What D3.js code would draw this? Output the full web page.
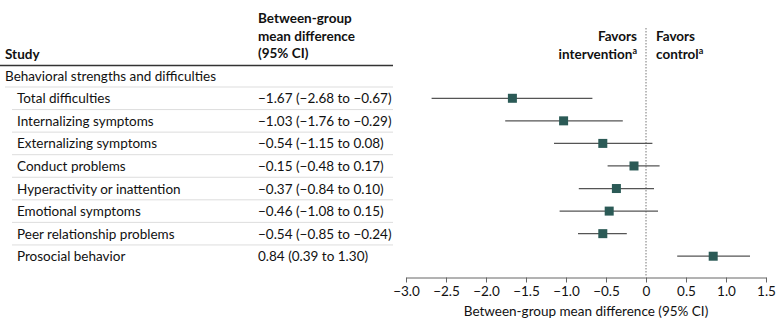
<!DOCTYPE html>
<html><head><meta charset="utf-8">
<script src="https://cdn.jsdelivr.net/npm/d3@7"></script>
<style>body{margin:0;background:#fff}svg{display:block}text{font-family:Lato,"Noto Sans",sans-serif;fill:#111}</style>
</head><body><svg id="c" width="780" height="330"></svg>
<script>
const studies = ["Total difficulties","Internalizing symptoms","Externalizing symptoms","Conduct problems","Hyperactivity or inattention","Emotional symptoms","Peer relationship problems","Prosocial behavior"];
const means = [-1.67,-1.03,-0.54,-0.15,-0.37,-0.46,-0.54,0.84];
const lows = [-2.68,-1.76,-1.15,-0.48,-0.84,-1.08,-0.85,0.39];
const highs = [-0.67,-0.29,0.08,0.17,0.10,0.15,-0.24,1.30];
const ciLabels = ["−1.67 (−2.68 to −0.67)","−1.03 (−1.76 to −0.29)","−0.54 (−1.15 to 0.08)","−0.15 (−0.48 to 0.17)","−0.37 (−0.84 to 0.10)","−0.46 (−1.08 to 0.15)","−0.54 (−0.85 to −0.24)","0.84 (0.39 to 1.30)"];
const tickValues = [-3.0,-2.5,-2.0,-1.5,-1.0,-0.5,0,0.5,1.0,1.5];
const tickLabels = ["−3.0","−2.5","−2.0","−1.5","−1.0","−0.5","0","0.5","1.0","1.5"];

const svg = d3.select("#c");
const fs = 13.5;
const x = d3.scaleLinear().domain([-3,1.5]).range([406,766]);
const y = d3.scaleBand().domain(studies).range([87,267.5]);

// header
svg.append("text").attr("x",5).attr("y",58.5).attr("font-size",fs).attr("font-weight","bold").text("Study");
["Between-group","mean difference","(95% CI)"].forEach((t,i)=>
  svg.append("text").attr("x",258).attr("y",23+i*17.7).attr("font-size",fs).attr("font-weight","bold").text(t));
svg.append("line").attr("x1",0).attr("x2",393).attr("y1",65.5).attr("y2",65.5).attr("stroke","#333").attr("stroke-width",1.5);
svg.append("text").attr("x",5).attr("y",81).attr("font-size",fs).text("Behavioral strengths and difficulties");
svg.append("line").attr("x1",5).attr("x2",393).attr("y1",87).attr("y2",87).attr("stroke","#ddd");

// rows
studies.forEach((s,i)=>{
  const cy = y(s)+y.bandwidth()/2;
  svg.append("text").attr("x",17).attr("y",cy+5).attr("font-size",fs).text(s);
  svg.append("text").attr("x",258).attr("y",cy+5).attr("font-size",fs).text(ciLabels[i]);
  if(i<studies.length-1) svg.append("line").attr("x1",12).attr("x2",393).attr("y1",y(s)+y.bandwidth()).attr("y2",y(s)+y.bandwidth()).attr("stroke","#ddd");
});

// favors labels
svg.append("line").attr("x1",x(0)).attr("x2",x(0)).attr("y1",28).attr("y2",277).attr("stroke","#777").attr("stroke-dasharray","1.5,1.5");
svg.append("text").attr("x",x(0)-9).attr("y",41).attr("text-anchor","end").attr("font-size",fs).attr("font-weight","bold").text("Favors");
const t2 = svg.append("text").attr("x",x(0)-9).attr("y",59).attr("text-anchor","end").attr("font-size",fs).attr("font-weight","bold");
t2.append("tspan").text("intervention");
t2.append("tspan").attr("font-size",9).attr("dy",-5).text("a");
svg.append("text").attr("x",x(0)+10).attr("y",41).attr("font-size",fs).attr("font-weight","bold").text("Favors");
const t3 = svg.append("text").attr("x",x(0)+10).attr("y",59).attr("font-size",fs).attr("font-weight","bold");
t3.append("tspan").text("control");
t3.append("tspan").attr("font-size",9).attr("dy",-5).text("a");

// CIs and points
const g = svg.append("g");
studies.forEach((s,i)=>{
  const cy = y(s)+y.bandwidth()/2;
  g.append("line").attr("x1",x(lows[i])).attr("x2",x(highs[i])).attr("y1",cy).attr("y2",cy).attr("stroke","#555").attr("stroke-width",1.2);
  g.append("rect").attr("x",x(means[i])-4.5).attr("y",cy-4.5).attr("width",9).attr("height",9).attr("fill","#2b5a56");
});

// axis
const ax = svg.append("g").attr("transform","translate(0,277.5)")
  .call(d3.axisBottom(x).tickValues(tickValues).tickFormat((d,i)=>tickLabels[i]).tickSize(5).tickSizeOuter(0).tickPadding(4));
ax.select(".domain").attr("stroke","#666");
ax.selectAll(".tick line").attr("stroke","#666");
ax.selectAll(".tick text").attr("font-size",fs).attr("font-family","Lato,'Noto Sans',sans-serif").attr("fill","#111");
svg.append("text").attr("x",586).attr("y",316).attr("text-anchor","middle").attr("font-size",fs).text("Between-group mean difference (95% CI)");
</script></body></html>
